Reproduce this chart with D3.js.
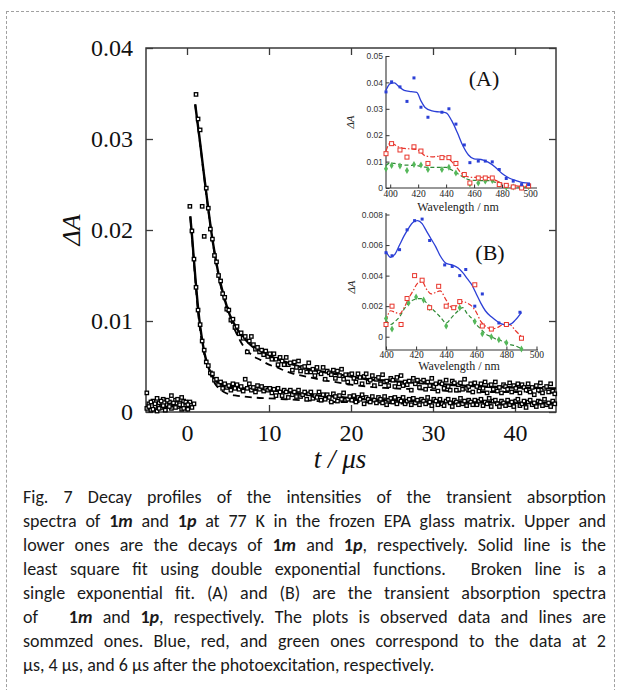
<!DOCTYPE html>
<html>
<head>
<meta charset="utf-8">
<script src="https://cdn.jsdelivr.net/npm/d3@7"></script>
<style>
  body { margin: 0; background: #fff; }
  #frame { position: absolute; left: 6px; top: 11px; width: 607px; height: 700px;
           border: 1px dashed #a0a0a0; border-bottom: none; }
  #chart { position: absolute; left: 0; top: 0; }
  #caption { position: absolute; left: 23px; top: 485px; width: 583px;
             font-family: Carlito, Lato, "Liberation Sans", sans-serif; font-size: 18px;
             line-height: 24px; color: #1a1a1a; }
  #caption .ln { text-align: justify; text-align-last: justify; white-space: nowrap; }
  #caption .last { text-align: left; text-align-last: left; white-space: nowrap; }
</style>
</head>
<body>
<div id="frame"></div>
<svg id="chart" width="619" height="690"></svg>
<div id="caption">
  <div class="ln">Fig. 7 Decay profiles of the intensities of the transient absorption</div>
  <div class="ln">spectra of <b>1<i>m</i></b> and <b>1<i>p</i></b> at 77 K in the frozen EPA glass matrix. Upper and</div>
  <div class="ln">lower ones are the decays of <b>1<i>m</i></b> and <b>1<i>p</i></b>, respectively. Solid line is the</div>
  <div class="ln">least square fit using double exponential functions.&nbsp; Broken line is a</div>
  <div class="ln">single exponential fit. (A) and (B) are the transient absorption spectra</div>
  <div class="ln">of &nbsp; <b>1<i>m</i></b> and <b>1<i>p</i></b>, respectively. The plots is observed data and lines are</div>
  <div class="ln">sommzed ones. Blue, red, and green ones correspond to the data at 2</div>
  <div class="last">μs, 4 μs, and 6 μs after the photoexcitation, respectively.</div>
</div>
<script>
// ---- decay profiles (t in μs, ΔA) ----
const sampleTime = [
  -4.9,-4.65,-4.4,-4.15,-3.9,-3.65,-3.4,-3.15,-2.9,-2.65,
  -2.4,-2.15,-1.9,-1.65,-1.4,-1.15,-0.9,-0.65,-0.4,-0.15,
  0.1,0.35,0.6,0.85,1.1,1.35,1.6,1.85,2.1,2.35,
  2.6,2.85,3.1,3.35,3.6,3.85,4.1,4.35,4.6,4.85,
  5.1,5.35,5.6,5.85,6.1,6.35,6.6,6.85,7.1,7.35,
  7.6,7.85,8.1,8.35,8.6,8.85,9.1,9.35,9.6,9.85,
  10.1,10.35,10.6,10.85,11.1,11.35,11.6,11.85,12.1,12.35,
  12.6,12.85,13.1,13.35,13.6,13.85,14.1,14.35,14.6,14.85,
  15.1,15.35,15.6,15.85,16.1,16.35,16.6,16.85,17.1,17.35,
  17.6,17.85,18.1,18.35,18.6,18.85,19.1,19.35,19.6,19.85,
  20.1,20.35,20.6,20.85,21.1,21.35,21.6,21.85,22.1,22.35,
  22.6,22.85,23.1,23.35,23.6,23.85,24.1,24.35,24.6,24.85,
  25.1,25.35,25.6,25.85,26.1,26.35,26.6,26.85,27.1,27.35,
  27.6,27.85,28.1,28.35,28.6,28.85,29.1,29.35,29.6,29.85,
  30.1,30.35,30.6,30.85,31.1,31.35,31.6,31.85,32.1,32.35,
  32.6,32.85,33.1,33.35,33.6,33.85,34.1,34.35,34.6,34.85,
  35.1,35.35,35.6,35.85,36.1,36.35,36.6,36.85,37.1,37.35,
  37.6,37.85,38.1,38.35,38.6,38.85,39.1,39.35,39.6,39.85,
  40.1,40.35,40.6,40.85,41.1,41.35,41.6,41.85,42.1,42.35,
  42.6,42.85,43.1,43.35,43.6,43.85,44.1,44.35,44.6,44.85
];

const decay1m = [
  0.0004,0.0009,0.0002,0.0012,0.0006,0.0001,0.0010,0.0005,0.0014,0.0003,
  0.0008,0.0011,0.0004,0.0009,0.0013,0.0006,0.0010,0.0003,0.0012,0.0007,
  0.0003,0.0011,0.0005,0.0009,0.0349,0.0322,0.0310,0.0226,0.0193,0.0246,
  0.0224,0.0201,0.0190,0.0172,0.0165,0.0150,0.0144,0.0130,0.0126,0.0113,
  0.0112,0.0101,0.0102,0.0093,0.0094,0.0086,0.0087,0.0081,0.0083,0.0066,
  0.0078,0.0083,0.0074,0.0069,0.0071,0.0066,0.0068,0.0063,0.0067,0.0061,
  0.0064,0.0058,0.0064,0.0058,0.0052,0.0060,0.0056,0.0052,0.0060,0.0052,
  0.0054,0.0046,0.0055,0.0049,0.0056,0.0045,0.0049,0.0050,0.0044,0.0054,
  0.0044,0.0047,0.0040,0.0049,0.0044,0.0042,0.0049,0.0036,0.0045,0.0043,
  0.0041,0.0046,0.0037,0.0045,0.0040,0.0047,0.0036,0.0041,0.0033,0.0041,
  0.0042,0.0037,0.0033,0.0042,0.0038,0.0031,0.0039,0.0042,0.0033,0.0035,
  0.0040,0.0029,0.0036,0.0038,0.0031,0.0041,0.0033,0.0034,0.0029,0.0037,
  0.0035,0.0028,0.0038,0.0031,0.0040,0.0029,0.0033,0.0030,0.0034,0.0024,
  0.0037,0.0031,0.0035,0.0027,0.0033,0.0035,0.0025,0.0033,0.0029,0.0037,
  0.0028,0.0031,0.0023,0.0033,0.0031,0.0026,0.0035,0.0028,0.0024,0.0034,
  0.0032,0.0024,0.0030,0.0032,0.0025,0.0036,0.0026,0.0028,0.0031,0.0022,
  0.0032,0.0028,0.0023,0.0031,0.0026,0.0033,0.0021,0.0029,0.0030,0.0025,
  0.0033,0.0023,0.0027,0.0021,0.0030,0.0028,0.0025,0.0032,0.0022,0.0029,
  0.0026,0.0031,0.0021,0.0030,0.0027,0.0024,0.0031,0.0022,0.0027,0.0019,
  0.0029,0.0024,0.0032,0.0021,0.0026,0.0028,0.0022,0.0031,0.0023,0.0020
];

const decay1p = [
  0.0021,0.0006,0.0011,0.0003,0.0009,0.0015,0.0004,0.0012,0.0007,0.0002,
  0.0013,0.0006,0.0018,0.0010,0.0005,0.0014,0.0008,0.0016,0.0004,0.0011,
  0.0008,0.0226,0.0199,0.0168,0.0137,0.0112,0.0096,0.0078,0.0068,0.0055,
  0.0051,0.0043,0.0042,0.0035,0.0036,0.0030,0.0033,0.0026,0.0031,0.0027,
  0.0029,0.0024,0.0031,0.0026,0.0030,0.0025,0.0028,0.0023,0.0036,0.0026,
  0.0031,0.0024,0.0027,0.0022,0.0029,0.0025,0.0028,0.0023,0.0026,0.0024,
  0.0026,0.0021,0.0025,0.0018,0.0026,0.0022,0.0018,0.0024,0.0022,0.0016,
  0.0024,0.0019,0.0022,0.0017,0.0024,0.0017,0.0019,0.0022,0.0014,0.0020,
  0.0022,0.0015,0.0018,0.0016,0.0022,0.0013,0.0019,0.0014,0.0019,0.0016,
  0.0011,0.0020,0.0017,0.0012,0.0018,0.0014,0.0021,0.0013,0.0014,0.0017,
  0.0013,0.0018,0.0011,0.0016,0.0014,0.0019,0.0009,0.0016,0.0014,0.0011,
  0.0017,0.0013,0.0010,0.0016,0.0014,0.0010,0.0017,0.0008,0.0013,0.0015,
  0.0011,0.0016,0.0009,0.0014,0.0012,0.0016,0.0009,0.0012,0.0014,0.0008,
  0.0015,0.0010,0.0013,0.0008,0.0014,0.0012,0.0009,0.0016,0.0011,0.0007,
  0.0014,0.0012,0.0008,0.0014,0.0009,0.0007,0.0012,0.0014,0.0010,0.0006,
  0.0013,0.0011,0.0008,0.0015,0.0009,0.0012,0.0007,0.0013,0.0011,0.0008,
  0.0013,0.0008,0.0012,0.0014,0.0007,0.0011,0.0009,0.0015,0.0006,0.0012,
  0.0013,0.0009,0.0006,0.0012,0.0010,0.0007,0.0013,0.0008,0.0011,0.0006,
  0.0012,0.0014,0.0007,0.0009,0.0012,0.0005,0.0011,0.0013,0.0008,0.0010,
  0.0006,0.0012,0.0011,0.0007,0.0014,0.0008,0.0010,0.0006,0.0012,0.0009
];

// fitted curves
const fit1mTime = [1.0,1.5,2.0,2.5,3.0,3.5,4.0,4.5,5.0,5.5,6.0,6.5,7.0,7.5,8.0,9.0,10,11,12,13,14,16,18,20,22,25,28,32,36,40,45];
const fit1mDouble = [0.0338,0.0303,0.0266,0.0230,0.0196,0.0168,0.0145,0.0127,0.0112,0.0101,0.0093,0.0086,0.0081,0.0076,0.0072,0.0066,0.0062,0.0058,0.0055,0.0052,0.0049,0.0045,0.0042,0.0039,0.0036,0.0034,0.0032,0.0030,0.0028,0.0027,0.0026];
const fit1mSingle = [0.0338,0.0302,0.0265,0.0229,0.0195,0.0167,0.0143,0.0125,0.0109,0.0097,0.0087,0.0078,0.0071,0.0066,0.0062,0.0057,0.0052,0.0049,0.0045,0.0042,0.0040,0.0036,0.0033,0.0030,0.0028,0.0026,0.0025,0.0023,0.0022,0.0022,0.0021];

const fit1pTime = [0.4,0.6,0.8,1.0,1.25,1.5,1.75,2.0,2.25,2.5,2.75,3.0,3.5,4.0,4.5,5,6,7,8,10,12,14,16,18,20,24,28,32,36,40,45];
const fit1pDouble = [0.0215,0.0195,0.0172,0.0150,0.0124,0.0102,0.0085,0.0071,0.0060,0.0052,0.0046,0.0041,0.0035,0.0031,0.0029,0.0028,0.0027,0.0026,0.0025,0.0024,0.0022,0.0020,0.0018,0.0017,0.0015,0.0013,0.0012,0.0011,0.0011,0.0010,0.0010];
const fit1pSingle = [0.0215,0.0193,0.0169,0.0146,0.0119,0.0097,0.0080,0.0068,0.0058,0.0050,0.0043,0.0038,0.0030,0.0025,0.0022,0.0020,0.0018,0.0017,0.0016,0.0015,0.0014,0.0013,0.0012,0.0011,0.0011,0.0010,0.0009,0.0009,0.0008,0.0008,0.0008];

const mainXTicks = [0,10,20,30,40];
const mainYTicks = [0,0.01,0.02,0.03,0.04];

// ---- inset (A): spectra of 1m ----
const specAWave = [397,401,407,412,417,422,427,437,442,447,453,457,463,468,473,478,483,488,494,499];
const specABlue = [0.0364,0.0402,0.0383,0.0328,0.0417,0.0306,0.0268,0.0287,0.0300,0.0242,0.0163,0.0096,0.0102,0.0102,0.0099,0.0070,0.0036,0.0026,0.0013,0.0013];
const specARed = [0.0130,0.0168,0.0144,0.0117,0.0156,0.0140,0.0093,0.0115,0.0115,0.0093,0.0051,0.0019,0.0038,0.0038,0.0038,0.0013,0.0010,0.0004,0.0000,0.0008];
const specAGreen = [0.0073,0.0085,0.0083,0.0066,0.0089,0.0087,0.0070,0.0070,0.0079,0.0057,0.0048,0.0015,0.0019,0.0026,0.0028,0.0013,0.0003,0.0004,0.0004,0.0005];
const specALineWave = [397,400,403,406,410,415,419,422,425,430,435,440,444,448,452,456,460,465,470,475,480,485,490,495,500];
const specABlueLine = [0.0370,0.0395,0.0398,0.0385,0.0370,0.0365,0.0362,0.0330,0.0305,0.0292,0.0288,0.0285,0.0255,0.0210,0.0160,0.0125,0.0110,0.0108,0.0098,0.0080,0.0055,0.0038,0.0028,0.0020,0.0018];
const specARedLine = [0.0140,0.0170,0.0165,0.0155,0.0150,0.0148,0.0146,0.0135,0.0122,0.0118,0.0120,0.0118,0.0100,0.0075,0.0050,0.0042,0.0040,0.0040,0.0040,0.0030,0.0018,0.0010,0.0008,0.0006,0.0008];
const specAGreenLine = [0.0085,0.0095,0.0093,0.0090,0.0087,0.0086,0.0085,0.0082,0.0079,0.0078,0.0078,0.0078,0.0068,0.0055,0.0042,0.0032,0.0029,0.0028,0.0028,0.0022,0.0012,0.0006,0.0004,0.0003,0.0003];
const specAXTicks = [400,420,440,460,480,500];
const specAYTicks = [0,0.01,0.02,0.03,0.04,0.05];

// ---- inset (B): spectra of 1p ----
const specBBlueWave = [400,404,409,414,419,424,429,439,444,449,453,459,464,475,489];
const specBBlue = [0.0055,0.0053,0.0057,0.0070,0.0076,0.0077,0.0063,0.0047,0.0046,0.0040,0.0044,0.0020,0.0028,0.0009,0.0016];
const specBRedWave = [400,404,410,414,419,424,429,435,440,445,449,459,464,470,480,490];
const specBRed = [0.0008,0.0020,0.0008,0.0025,0.0040,0.0037,0.0019,0.0033,0.0020,0.0019,0.0023,0.0034,0.0007,0.0005,0.0008,-0.0001];
const specBGreenWave = [400,404,415,420,425,429,440,449,459,464,470,475,480,490];
const specBGreen = [0.0012,0.0005,0.0022,0.0026,0.0024,0.0019,0.0007,0.0019,0.0010,0.0002,0.0000,-0.0002,-0.0004,-0.0008];
const specBLineWave = [400,403,406,409,412,415,418,421,424,427,430,433,436,440,444,448,451,454,457,460,463,466,470,474,478,482,486,490];
const specBBlueLine = [0.0056,0.0052,0.0054,0.0060,0.0066,0.0071,0.0075,0.0076,0.0074,0.0069,0.0064,0.0059,0.0053,0.0048,0.0047,0.0045,0.0042,0.0038,0.0034,0.0028,0.0022,0.0017,0.0013,0.0010,0.0008,0.0008,0.0011,0.0016];
const specBRedLine = [0.0010,0.0017,0.0016,0.0015,0.0019,0.0025,0.0030,0.0035,0.0036,0.0031,0.0028,0.0029,0.0030,0.0024,0.0019,0.0021,0.0023,0.0022,0.0020,0.0016,0.0010,0.0007,0.0005,0.0006,0.0008,0.0008,0.0004,0.0000];
const specBGreenLine = [0.0011,0.0008,0.0010,0.0013,0.0018,0.0022,0.0024,0.0025,0.0025,0.0022,0.0019,0.0016,0.0013,0.0009,0.0013,0.0017,0.0019,0.0015,0.0012,0.0008,0.0005,0.0002,0.0000,-0.0002,-0.0003,-0.0005,-0.0006,-0.0008];
const specBXTicks = [400,420,440,460,480,500];
const specBYTicks = [0,0.002,0.004,0.006,0.008];

const BLUE = "#2b3fd6", RED = "#e8352c", GREEN_LINE = "#2f8a36", GREEN_PT = "#55b85a";
const SERIF = "'Liberation Serif', 'Times New Roman', serif";
const SANS = "'Liberation Sans', Arial, sans-serif";

const svg = d3.select("#chart");

// ================= main decay plot =================
const x = d3.scaleLinear().domain([-5, 45]).range([146, 556]);
const y = d3.scaleLinear().domain([0, 0.04]).range([412, 48]);
const main = svg.append("g");

function styleAxis(g, size) {
  g.select(".domain").remove();
  g.selectAll(".tick line").attr("stroke", "#3a3a3a").attr("stroke-width", 1.3);
  g.selectAll(".tick text").attr("font-family", SERIF).attr("font-size", size).attr("fill", "#111");
}

main.append("g").attr("transform", "translate(0,412)")
  .call(d3.axisBottom(x).tickValues(mainXTicks).tickSizeInner(-7).tickSizeOuter(0).tickPadding(12))
  .call(g => styleAxis(g, 24));
main.append("g").attr("transform", "translate(0,48)")
  .call(d3.axisTop(x).tickValues(mainXTicks).tickSizeInner(-7).tickSizeOuter(0).tickFormat(""))
  .call(g => styleAxis(g, 24));
main.append("g").attr("transform", "translate(146,0)")
  .call(d3.axisLeft(y).tickValues(mainYTicks).tickSizeInner(-7).tickSizeOuter(0).tickPadding(13)
        .tickFormat(d => d === 0 ? "0" : d3.format(".2f")(d)))
  .call(g => styleAxis(g, 24));
main.append("g").attr("transform", "translate(556,0)")
  .call(d3.axisRight(y).tickValues(mainYTicks).tickSizeInner(-7).tickSizeOuter(0).tickFormat(""))
  .call(g => styleAxis(g, 24));

main.append("rect")
  .attr("x", x.range()[0]).attr("y", y.range()[1])
  .attr("width", x.range()[1] - x.range()[0]).attr("height", y.range()[0] - y.range()[1])
  .attr("fill", "none").attr("stroke", "#3a3a3a").attr("stroke-width", 1.5);

main.append("text").attr("transform", "translate(80,230) rotate(-90)")
  .attr("text-anchor", "middle").attr("font-family", SERIF).attr("font-style", "italic")
  .attr("font-size", 26).attr("fill", "#111").text("ΔA");
main.append("text").attr("x", 340).attr("y", 468)
  .attr("text-anchor", "middle").attr("font-family", SERIF).attr("font-style", "italic")
  .attr("font-size", 27).attr("fill", "#111").text("t / μs");

const plotArea = main.append("g");
const line = d3.line().x(d => x(d[0])).y(d => y(d[1])).curve(d3.curveMonotoneX);

function drawFit(times, values, dashed) {
  plotArea.append("path").datum(times.map((t, i) => [t, values[i]]))
    .attr("d", line).attr("fill", "none").attr("stroke", "#000")
    .attr("stroke-width", dashed ? 1.8 : 2.4)
    .attr("stroke-dasharray", dashed ? "7,5" : null);
}
drawFit(fit1mTime, fit1mSingle, true);
drawFit(fit1pTime, fit1pSingle, true);
drawFit(fit1mTime, fit1mDouble, false);
drawFit(fit1pTime, fit1pDouble, false);

function drawScatter(values) {
  const pts = sampleTime.map((t, i) => [t, values[i]]).filter(d => d[1] != null);
  plotArea.append("g").selectAll("rect").data(pts).join("rect")
    .attr("x", d => x(d[0]) - 1.7).attr("y", d => y(d[1]) - 1.7)
    .attr("width", 3.4).attr("height", 3.4)
    .attr("fill", "#fff").attr("stroke", "#000").attr("stroke-width", 1.3);
}
drawScatter(decay1m);
drawScatter(decay1p);

// ================= insets =================
function drawInset(cfg) {
  const g = svg.append("g");
  const sx = d3.scaleLinear().domain(cfg.xDomain).range(cfg.xRange);
  const sy = d3.scaleLinear().domain(cfg.yDomain).range(cfg.yRange);
  const bottom = cfg.yRange[0], left = cfg.xRange[0];

  g.append("path")
    .attr("d", `M${left},${cfg.yRange[1]}V${bottom}H${cfg.xRange[1]}`)
    .attr("fill", "none").attr("stroke", "#333").attr("stroke-width", 1.1);

  const ax = g.append("g").attr("transform", `translate(0,${bottom})`)
    .call(d3.axisBottom(sx).tickValues(cfg.xTicks).tickSizeInner(-3.5).tickSizeOuter(0).tickPadding(cfg.xPad));
  ax.select(".domain").remove();
  ax.selectAll(".tick line").attr("stroke", "#333");
  ax.selectAll(".tick text").attr("font-family", SERIF).attr("font-size", 9.5).attr("fill", "#222");

  const ay = g.append("g").attr("transform", `translate(${left},0)`)
    .call(d3.axisLeft(sy).tickValues(cfg.yTicks).tickSizeInner(-3.5).tickSizeOuter(0).tickPadding(3)
      .tickFormat(cfg.yFormat));
  ay.select(".domain").remove();
  ay.selectAll(".tick line").attr("stroke", "#333");
  ay.selectAll(".tick text").attr("font-family", SANS).attr("font-size", 8.5).attr("fill", "#333");

  g.append("text").attr("x", cfg.wlX).attr("y", cfg.wlY).attr("text-anchor", "middle")
    .attr("font-family", SERIF).attr("font-size", 12).attr("fill", "#222").text("Wavelength / nm");
  g.append("text").attr("transform", `translate(${cfg.dyX},${cfg.dyY}) rotate(-90)`)
    .attr("text-anchor", "middle").attr("font-family", SERIF).attr("font-style", "italic")
    .attr("font-size", 11).attr("fill", "#222").text("ΔA");
  g.append("text").attr("x", cfg.tagX).attr("y", cfg.tagY).attr("text-anchor", "middle")
    .attr("font-family", SERIF).attr("font-size", 22).attr("fill", "#111").text(cfg.tag);

  const ln = d3.line().x(d => sx(d[0])).y(d => sy(d[1])).curve(d3.curveMonotoneX);
  const pair = (w, v) => w.map((t, i) => [t, v[i]]);

  g.append("path").datum(pair(cfg.lineWave, cfg.greenLine)).attr("d", ln)
    .attr("fill", "none").attr("stroke", GREEN_LINE).attr("stroke-width", 1.2).attr("stroke-dasharray", "4,2.5");
  g.append("path").datum(pair(cfg.lineWave, cfg.redLine)).attr("d", ln)
    .attr("fill", "none").attr("stroke", RED).attr("stroke-width", 1.2).attr("stroke-dasharray", "5,2,1.5,2");
  g.append("path").datum(pair(cfg.lineWave, cfg.blueLine)).attr("d", ln)
    .attr("fill", "none").attr("stroke", BLUE).attr("stroke-width", 1.3);

  const diamond = d3.symbol().type(d3.symbolDiamond).size(14);
  g.append("g").selectAll("path").data(pair(cfg.greenWave, cfg.greenPts)).join("path")
    .attr("d", diamond).attr("transform", d => `translate(${sx(d[0])},${sy(d[1])})`)
    .attr("fill", GREEN_PT);
  g.append("g").selectAll("rect").data(pair(cfg.redWave, cfg.redPts)).join("rect")
    .attr("x", d => sx(d[0]) - 2).attr("y", d => sy(d[1]) - 2).attr("width", 4).attr("height", 4)
    .attr("fill", "#fff").attr("stroke", RED).attr("stroke-width", 1);
  g.append("g").selectAll("rect").data(pair(cfg.blueWave, cfg.bluePts)).join("rect")
    .attr("x", d => sx(d[0]) - 1.5).attr("y", d => sy(d[1]) - 1.5).attr("width", 3).attr("height", 3)
    .attr("fill", BLUE);
}

drawInset({
  xDomain: [397, 505], xRange: [386, 537],
  yDomain: [0, 0.05], yRange: [188, 56],
  xTicks: specAXTicks, yTicks: specAYTicks, xPad: 2,
  yFormat: d => d === 0 ? "0" : d3.format(".2f")(d),
  wlX: 458, wlY: 211, dyX: 354, dyY: 122, tag: "(A)", tagX: 484, tagY: 86,
  lineWave: specALineWave, blueLine: specABlueLine, redLine: specARedLine, greenLine: specAGreenLine,
  blueWave: specAWave, bluePts: specABlue, redWave: specAWave, redPts: specARed,
  greenWave: specAWave, greenPts: specAGreen
});

drawInset({
  xDomain: [400, 501], xRange: [386, 538],
  yDomain: [-0.00087, 0.0081], yRange: [350, 213],
  xTicks: specBXTicks, yTicks: specBYTicks, xPad: 1,
  yFormat: d => d === 0 ? "0" : d3.format(".3f")(d),
  wlX: 459, wlY: 370, dyX: 355, dyY: 287, tag: "(B)", tagX: 490, tagY: 260,
  lineWave: specBLineWave, blueLine: specBBlueLine, redLine: specBRedLine, greenLine: specBGreenLine,
  blueWave: specBBlueWave, bluePts: specBBlue, redWave: specBRedWave, redPts: specBRed,
  greenWave: specBGreenWave, greenPts: specBGreen
});
</script>
</body>
</html>
